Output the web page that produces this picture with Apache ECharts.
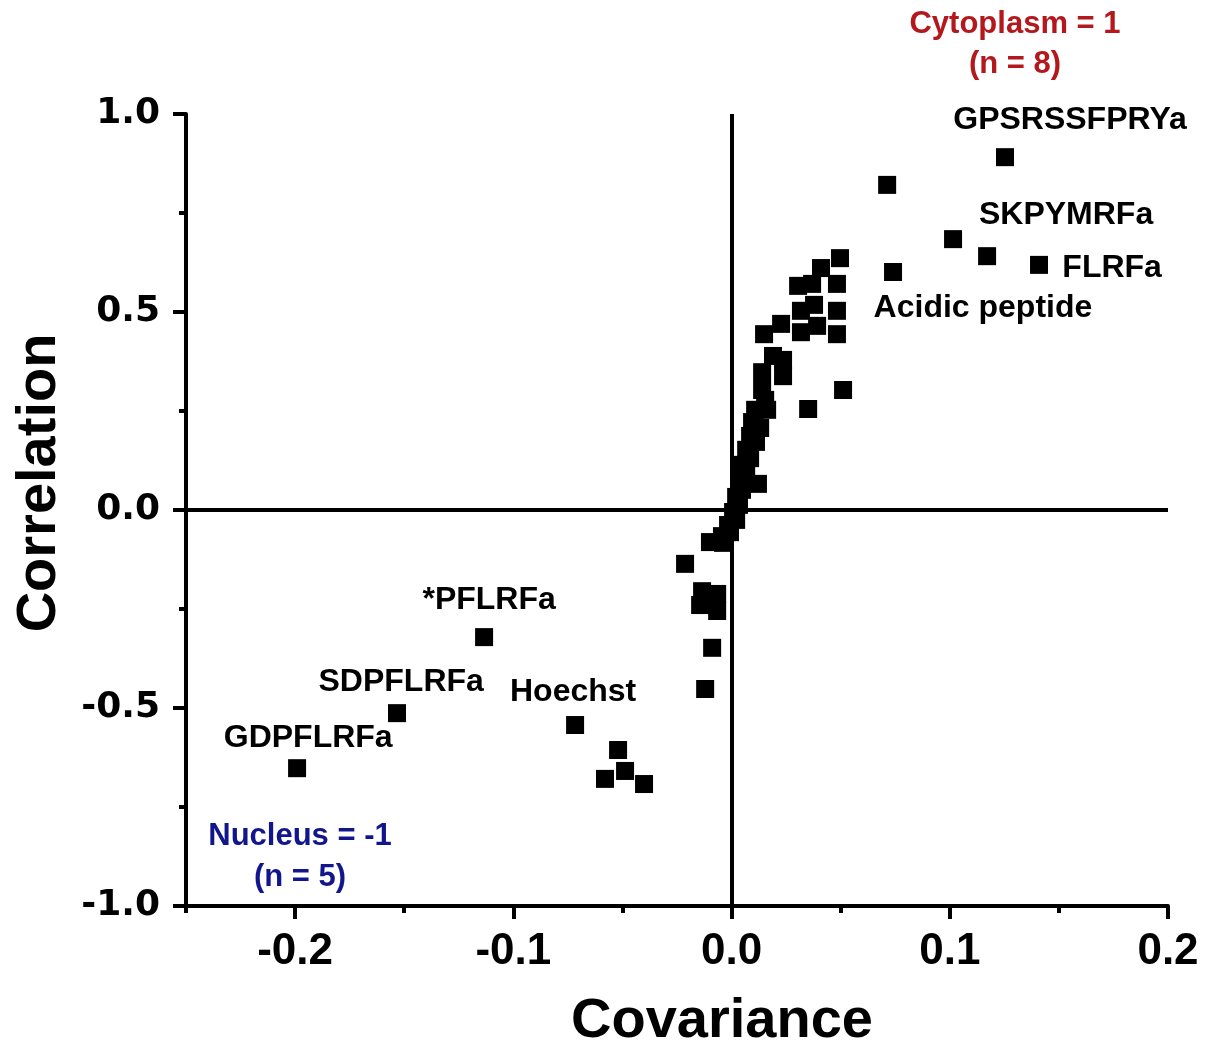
<!DOCTYPE html>
<html>
<head>
<meta charset="utf-8">
<script src="https://cdn.jsdelivr.net/npm/echarts@6/dist/echarts.min.js"></script>
<style>
html,body{margin:0;padding:0;background:#fff;}
#chart{width:1209px;height:1047px;}
</style>
</head>
<body>
<div id="chart"></div>
<script>
// ---- data ----
const covariance = [
  0.1253, 0.0713, 0.1015, 0.1171, 0.1409, 0.0740, 0.0497, 0.0511, 0.0351, 0.0121,
  0.0410, 0.0483, 0.0305, 0.0369, 0.0318, 0.0483, 0.0227, 0.0149, 0.0318, 0.0392,
  0.0483, 0.0378, 0.0190, 0.0236, 0.0236, 0.0140, 0.0140, 0.0154, 0.0108, 0.0163,
  0.0094, 0.0131, 0.0085, 0.0112, 0.0067, 0.0085, 0.0048, 0.0067, 0.0034, 0.0048,
  0.0021, 0.0034, 0.0007, 0.0021, -0.0016, -0.0007, -0.0044, -0.0039, -0.0099,
  -0.0213, -0.0135, -0.0066, -0.0144, -0.0066, -0.0089, -0.0121,
  -0.1134, -0.1533, -0.1991, -0.0717, -0.0520, -0.0580, -0.0488, -0.0401
];
const correlation = [
  0.891, 0.821, 0.684, 0.641, 0.619, 0.601, 0.636, 0.303, 0.255, 0.066,
  0.611, 0.571, 0.566, 0.571, 0.503, 0.503, 0.470, 0.444, 0.449, 0.465,
  0.444, 0.518, 0.389, 0.379, 0.338, 0.348, 0.303, 0.278, 0.253, 0.253,
  0.222, 0.207, 0.187, 0.172, 0.152, 0.131, 0.114, 0.096, 0.076, 0.051,
  0.033, 0.013, -0.005, -0.025, -0.038, -0.056, -0.066, -0.083, -0.081,
  -0.136, -0.205, -0.212, -0.240, -0.255, -0.348, -0.452,
  -0.321, -0.513, -0.652, -0.543, -0.606, -0.679, -0.659, -0.692
];
const labelNames = ['GPSRSSFPRYa', 'SKPYMRFa', 'FLRFa', 'Acidic peptide', '*PFLRFa', 'SDPFLRFa', 'Hoechst', 'GDPFLRFa'];
const labelX = [0.1551, 0.1533, 0.1744, 0.1152, -0.1111, -0.1514, -0.0726, -0.1940];
const labelY = [0.985, 0.745, 0.611, 0.510, -0.227, -0.434, -0.460, -0.576];
const xMajorTicks = [-0.2, -0.1, 0.0, 0.1, 0.2];
const xMinorTicks = [-0.25, -0.15, -0.05, 0.05, 0.15];

const points = covariance.map((c, i) => [c, correlation[i]]);
const labelData = labelNames.map((n, i) => ({ name: n, value: [labelX[i], labelY[i]] }));

const chart = echarts.init(document.getElementById('chart'), null, { renderer: 'canvas' });
const font = "'Liberation Sans', Arial, sans-serif";
const annFont = "bold 31px 'Liberation Sans', Arial, sans-serif";

chart.setOption({
  animation: false,
  backgroundColor: '#fff',
  grid: { left: 186, right: 41, top: 114, bottom: 141, containLabel: false, outerBoundsMode: 'none' },
  xAxis: [{
    type: 'value', min: -0.25, max: 0.2,
    name: 'Covariance', nameLocation: 'middle', nameGap: 88,
    nameTextStyle: { fontFamily: font, fontWeight: 'bold', fontSize: 56, color: '#000', padding: [0, 0, 0, 90] },
    axisLine: { show: true, onZero: false, lineStyle: { color: '#000', width: 4 } },
    axisTick: { show: true, length: 13, inside: false, customValues: xMajorTicks, lineStyle: { color: '#000', width: 4 } },
    axisLabel: { customValues: xMajorTicks, margin: 24, fontFamily: font, fontWeight: 'bold', fontSize: 44, color: '#000',
      formatter: v => v.toFixed(1) },
    splitLine: { show: false }
  }, {
    type: 'value', min: -0.25, max: 0.2, position: 'bottom', gridIndex: 0,
    axisLine: { show: false, onZero: false },
    axisTick: { show: true, length: 7, customValues: xMinorTicks, lineStyle: { color: '#000', width: 4 } },
    axisLabel: { show: false },
    splitLine: { show: false }
  }],
  yAxis: [{
    type: 'value', min: -1, max: 1, interval: 0.5,
    name: 'Correlation', nameLocation: 'middle', nameGap: 118,
    nameTextStyle: { fontFamily: font, fontWeight: 'bold', fontSize: 56, color: '#000', padding: [0, 0, 0, 54] },
    axisLine: { show: true, onZero: false, lineStyle: { color: '#000', width: 4 } },
    axisTick: { show: true, length: 13, lineStyle: { color: '#000', width: 4 } },
    minorTick: { show: true, splitNumber: 2, length: 7, lineStyle: { color: '#000', width: 4 } },
    axisLabel: { margin: 26, fontFamily: "'DejaVu Sans', sans-serif", fontWeight: 'bold', fontSize: 36, color: '#000',
      formatter: v => v.toFixed(1) },
    splitLine: { show: false },
    minorSplitLine: { show: false }
  }],
  series: [{
    type: 'scatter',
    xAxisIndex: 0, yAxisIndex: 0,
    symbol: 'rect', symbolSize: 18,
    itemStyle: { color: '#000', opacity: 1 },
    data: points,
    z: 5,
    markLine: {
      silent: true, symbol: 'none', animation: false,
      label: { show: false },
      lineStyle: { color: '#000', width: 4, type: 'solid', opacity: 1 },
      data: [{ xAxis: 0 }, { yAxis: 0 }]
    }
  }, {
    type: 'scatter',
    xAxisIndex: 0, yAxisIndex: 0,
    symbolSize: 0, silent: true, clip: false,
    itemStyle: { color: '#000', opacity: 1 },
    data: labelData,
    label: { show: true, position: 'inside', formatter: '{b}', fontFamily: font, fontWeight: 'bold', fontSize: 32, color: '#000', opacity: 1 },
    z: 6
  }],
  graphic: [
    { type: 'text', style: { text: 'Cytoplasm = 1', x: 1015, y: 24, align: 'center', verticalAlign: 'middle', font: annFont, fill: '#b3191c' } },
    { type: 'text', style: { text: '(n = 8)', x: 1015, y: 64, align: 'center', verticalAlign: 'middle', font: annFont, fill: '#b3191c' } },
    { type: 'text', style: { text: 'Nucleus = -1', x: 300, y: 836, align: 'center', verticalAlign: 'middle', font: annFont, fill: '#12168c' } },
    { type: 'text', style: { text: '(n = 5)', x: 300, y: 877, align: 'center', verticalAlign: 'middle', font: annFont, fill: '#12168c' } }
  ]
});
</script>
</body>
</html>
